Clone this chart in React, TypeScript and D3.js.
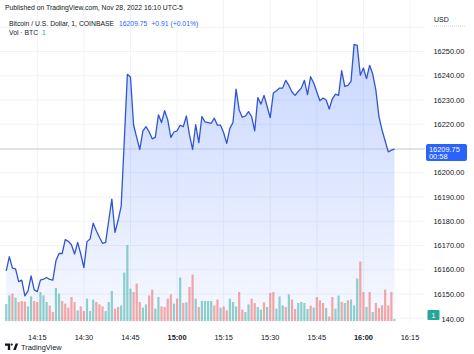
import React from 'react';
import * as d3 from 'd3';

// BTC/USD 1-minute closes, 14:05 -> 16:10 (one value per minute)
const closes = [
  16159.5, 16165.4, 16160.7, 16160.4, 16155.1, 16155.7, 16149.2, 16151.2, 16157.5, 16151.7,
  16151.0, 16155.7, 16156.1, 16156.8, 16156.0, 16155.7, 16163.7, 16166.7, 16166.7, 16172.4,
  16171.7, 16170.3, 16166.5, 16171.3, 16166.5, 16160.9, 16171.6, 16172.7, 16179.2, 16176.1,
  16173.4, 16170.9, 16171.3, 16180.3, 16189.1, 16175.4, 16180.3, 16186.1, 16213.0, 16240.6,
  16239.5, 16219.7, 16214.6, 16209.6, 16217.3, 16219.0, 16216.9, 16214.0, 16214.6, 16223.9,
  16220.7, 16225.6, 16221.8, 16214.6, 16216.8, 16217.3, 16219.6, 16219.0, 16223.4, 16215.6,
  16209.6, 16219.8, 16212.4, 16223.2, 16221.0, 16220.7, 16220.4, 16222.5, 16219.6, 16219.6,
  16216.5, 16212.1, 16218.3, 16220.7, 16234.5, 16225.9, 16222.9, 16223.4, 16225.2, 16223.2,
  16217.3, 16231.0, 16228.3, 16231.9, 16227.3, 16222.7, 16232.9, 16233.8, 16234.9, 16234.9,
  16238.1, 16236.0, 16233.3, 16231.9, 16233.5, 16234.9, 16238.1, 16232.2, 16239.6, 16237.0,
  16233.3, 16229.7, 16230.8, 16230.0, 16226.3, 16230.5, 16232.4, 16231.9, 16242.1, 16235.6,
  16236.0, 16237.7, 16252.9, 16252.5, 16240.2, 16243.2, 16238.8, 16244.3, 16240.7, 16234.2,
  16223.2, 16217.6, 16213.1, 16208.6, 16209.3, 16209.75,
];

// volume in BTC per minute
const volumes = [
  8.5, 12.8, 13.7, 11.7, 9.5, 10, 9.7, 7.3, 12.3, 10, 9.5, 14.5, 12.8, 9.5, 7.7, 4.5, 16.5, 13.7,
  10, 8.7, 6.7, 12, 9.5, 5.3, 7.3, 5, 11.2, 5, 10.7, 9.5, 8.3, 7.3, 5, 9.5, 15, 6.2, 7, 7.8, 24.2,
  38, 16.2, 14.5, 18.7, 9.5, 6.7, 8.3, 12.8, 15.7, 6.2, 12, 7.3, 7, 11.2, 13.3, 8.7, 11.2, 21.7, 9,
  9.3, 17, 23.2, 11.2, 7, 10, 10, 10, 10, 7.7, 10.7, 6.7, 7.3, 5.3, 11.2, 9.5, 7.3, 14.5, 5.7, 4.5,
  8.3, 11.2, 9, 7, 5.7, 9.3, 7, 14, 14.5, 6.2, 12.3, 7.8, 7, 13.3, 10.7, 6, 9, 9.5, 9, 6, 7.7, 6.7,
  12, 10.3, 9, 6.5, 2.3, 12, 6.2, 12.7, 9.5, 9, 10.3, 10.7, 7.8, 21.2, 29.7, 14.5, 7, 14.5, 4.5, 9,
  6.5, 7.8, 15.7, 7.8, 14.5, 1,
];

// 1 = up candle (teal), 0 = down candle (red)
const upBars = [
  1, 1, 0, 1, 0, 0, 0, 1, 1, 0, 0, 1, 1, 1, 0, 0, 1, 1, 0, 0, 0, 0, 0, 1, 0, 0, 1, 1, 1, 0, 0, 0,
  1, 1, 1, 0, 0, 1, 1, 1, 1, 0, 0, 0, 1, 1, 0, 0, 1, 1, 0, 0, 0, 0, 1, 0, 1, 0, 1, 0, 0, 1, 0, 1,
  1, 1, 1, 0, 0, 1, 0, 0, 1, 1, 1, 0, 0, 1, 1, 0, 0, 1, 1, 0, 1, 0, 0, 1, 1, 1, 0, 1, 0, 0, 1, 1,
  1, 1, 0, 1, 0, 0, 0, 1, 0, 0, 1, 1, 0, 1, 0, 1, 1, 1, 0, 0, 1, 0, 1, 0, 0, 0, 0, 0, 0, 1,
];

// 16210 sits under the last-price tag, so it is not labelled
const priceTicks = [16150, 16160, 16170, 16180, 16190, 16200, 16220, 16230, 16240, 16250];
const gridPrices = [16140, 16150, 16160, 16170, 16180, 16190, 16200, 16210, 16220, 16230, 16240, 16250, 16260];
const lastPrice = 16209.75;
const countdown = '00:58';

const W = 474;
const H = 354;
const paneRight = 425;
const paneBottom = 322;
const font = '"Liberation Sans", Arial, sans-serif';

export default function App() {
  const start = new Date(2022, 10, 28, 14, 5);
  const times = d3.timeMinute.range(start, d3.timeMinute.offset(start, closes.length));
  const data = times.map((t, i) => ({ t, v: closes[i], vol: volumes[i], up: upBars[i] === 1 }));

  const x = d3.scaleTime()
    .domain([new Date(2022, 10, 28, 14, 15), new Date(2022, 10, 28, 16, 15)])
    .range([37.3, 410]);
  const y = d3.scaleLinear().domain([16150, 16250]).range([294, 51.5]);
  const yVol = d3.scaleLinear().domain([0, 40]).range([paneBottom - 1, paneBottom - 81]);

  const timeTicks = x.ticks(d3.timeMinute.every(15));
  const fmt = d3.timeFormat('%H:%M');
  const f2 = d3.format('.2f');

  const area = d3.area<any>().x(d => x(d.t)).y0(paneBottom).y1(d => y(d.v));
  const line = d3.line<any>().x(d => x(d.t)).y(d => y(d.v));

  const lastVol = volumes[volumes.length - 1];

  return (
    <div>
      <style>{'body{margin:0}'}</style>
      <svg width={W} height={H} style={{ display: 'block', background: '#fff' }} fontFamily={font}>
        <defs>
          <linearGradient id="fillGrad" gradientUnits="userSpaceOnUse" x1="0" y1="40" x2="0" y2={paneBottom}>
            <stop offset="0" stopColor="rgba(41,98,255,0.26)" />
            <stop offset="1" stopColor="rgba(41,98,255,0.04)" />
          </linearGradient>
          <clipPath id="pane">
            <rect x={0} y={0} width={paneRight} height={paneBottom} />
          </clipPath>
        </defs>

        {/* grid */}
        {gridPrices.map(p => (
          <line key={p} x1={0} x2={paneRight} y1={y(p)} y2={y(p)} stroke="#f0f3fa" strokeWidth={1} />
        ))}
        {timeTicks.map(t => (
          <line key={+t} x1={x(t)} x2={x(t)} y1={0} y2={paneBottom} stroke="#f0f3fa" strokeWidth={1} />
        ))}

        <g clipPath="url(#pane)">
          <path d={area(data) || ''} fill="url(#fillGrad)" />
          {data.map((d, i) => (
            <rect key={i} x={x(d.t) - 1.1} width={2.2} y={yVol(d.vol)} height={yVol(0) - yVol(d.vol)}
              fill={d.up ? 'rgba(38,166,154,0.5)' : 'rgba(239,83,80,0.5)'} />
          ))}
          <line x1={0} x2={paneRight} y1={y(lastPrice)} y2={y(lastPrice)} stroke="#c9ccd4" strokeWidth={1} />
          <path d={line(data) || ''} fill="none" stroke="#3155cf" strokeWidth={1.3} strokeLinejoin="round" />
        </g>

        {/* header */}
        <text x={5} y={10} fontSize={6.8} fill="#131722">Published on TradingView.com, Nov 28, 2022 16:10 UTC-5</text>
        <text x={9} y={25.5} fontSize={6.8} fill="#131722">
          Bitcoin / U.S. Dollar, 1, COINBASE
          <tspan dx={5} fill="#2962ff">16209.75</tspan>
          <tspan dx={4} fill="#2962ff">+0.91 (+0.01%)</tspan>
        </text>
        <text x={9} y={35} fontSize={6.8} fill="#131722">
          Vol · BTC
          <tspan dx={4} fill="#26a69a">1</tspan>
        </text>

        {/* price axis */}
        <text x={434} y={22} fontSize={7} fill="#131722">USD</text>
        <line x1={434} x2={465} y1={26} y2={26} stroke="#c9ccd4" strokeWidth={0.8} strokeDasharray="1,1" />
        {priceTicks.map(p => (
          <text key={p} x={433.5} y={y(p) + 2.6} fontSize={7.4} fill="#131722">{f2(p)}</text>
        ))}
        {/* 16140.00 is mostly hidden behind the volume tag */}
        <text x={441.5} y={y(16140) + 4} fontSize={7.4} fill="#131722">{f2(16140).slice(2)}</text>
        <rect x={426} y={y(lastPrice) - 5} width={41} height={17} rx={2} fill="#2962ff" />
        <text x={429} y={y(lastPrice) + 2.5} fontSize={7.4} fill="#fff">{f2(lastPrice)}</text>
        <text x={429} y={y(lastPrice) + 10} fontSize={7.4} fill="#fff">{countdown}</text>
        <rect x={427.5} y={yVol(lastVol) - 9} width={12} height={10} rx={1} fill="#26a69a" />
        <text x={433.5} y={yVol(lastVol) - 1.5} fontSize={7} fill="#fff" textAnchor="middle">{lastVol}</text>

        {/* time axis */}
        {timeTicks.map(t => (
          <text key={+t} x={x(t)} y={340} fontSize={7.4} textAnchor="middle" fill="#131722"
            fontWeight={t.getMinutes() === 0 ? 'bold' : 'normal'}>
            {fmt(t)}
          </text>
        ))}

        {/* logo */}
        <path d="M5,343.5 h5.2 v6.5 h-2.4 v-4.3 h-2.8 z" fill="#131722" />
        <circle cx={11.8} cy={344.6} r={1.1} fill="#131722" />
        <path d="M13.2,350 L15.6,343.5 L18.2,343.5 L15.8,350 z" fill="#131722" />
        <text x={21} y={350} fontSize={7.4} fill="#131722">TradingView</text>
      </svg>
    </div>
  );
}
